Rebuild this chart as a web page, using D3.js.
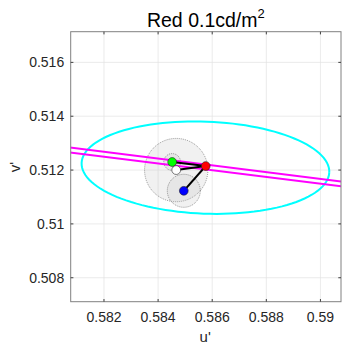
<!DOCTYPE html>
<html>
<head>
<meta charset="utf-8">
<script src="https://cdn.jsdelivr.net/npm/d3@7"></script>
<style>
  body { margin: 0; background: #fff; }
  svg { font-family: "Liberation Sans", Arial, sans-serif; }
</style>
</head>
<body>
<svg width="351" height="349"></svg>
<script>
// chromaticity points (u', v')
const POINT_NAMES = ['white', 'green', 'red', 'blue'];
const POINT_U = [0.58467, 0.58452, 0.58576, 0.58495];
const POINT_V = [0.51200, 0.51230, 0.51215, 0.51123];
const POINT_RADIUS = [0.00117, 0.00031, 0, 0.00061]; // spread circles
const POINT_COLORS = ['#ffffff', '#00ff00', '#ff0000', '#0000ff'];

// discrimination ellipse
const ELLIPSE_CENTER = [0.58575, 0.51209];
const ELLIPSE_AXES = [0.00458, 0.00171];
const ELLIPSE_ANGLE = -2.2; // degrees

// parallel confusion lines
const LINE_U = [0.5800, 0.5915];
const LINE_V_UPPER = [0.51293, 0.51148];
const LINE_V_LOWER = [0.51275, 0.51131];

const X_TICKS = [0.582, 0.584, 0.586, 0.588, 0.59];
const Y_TICKS = [0.508, 0.51, 0.512, 0.514, 0.516];

const MARGIN = { left: 70.7, top: 31.7 };
const W = 270.3, H = 270;

const svg = d3.select('svg');
const g = svg.append('g').attr('transform', `translate(${MARGIN.left},${MARGIN.top})`);

const x = d3.scaleLinear().domain([0.58077, 0.59076]).range([0, W]);
const y = d3.scaleLinear().domain([0.50711, 0.51714]).range([H, 0]);

svg.append('defs').append('clipPath').attr('id', 'clip')
  .append('rect').attr('width', W).attr('height', H);

// grid
g.selectAll('.gx').data(X_TICKS).join('line')
  .attr('x1', d => x(d)).attr('x2', d => x(d))
  .attr('y1', 0).attr('y2', H)
  .attr('stroke', '#e3e3e3').attr('stroke-width', 0.7);
g.selectAll('.gy').data(Y_TICKS).join('line')
  .attr('y1', d => y(d)).attr('y2', d => y(d))
  .attr('x1', 0).attr('x2', W)
  .attr('stroke', '#e3e3e3').attr('stroke-width', 0.7);

const plot = g.append('g').attr('clip-path', 'url(#clip)');

const pts = POINT_NAMES.map((n, i) => ({ name: n, u: POINT_U[i], v: POINT_V[i], r: POINT_RADIUS[i], c: POINT_COLORS[i] }));

// spread circles
plot.selectAll('.spread').data(pts.filter(d => d.r > 0)).join('circle')
  .attr('cx', d => x(d.u)).attr('cy', d => y(d.v))
  .attr('r', d => x(d.u + d.r) - x(d.u))
  .attr('fill', 'rgba(190,190,190,0.22)')
  .attr('stroke', '#555').attr('stroke-width', 0.6)
  .attr('stroke-dasharray', '1,1');

// ellipse
const th = ELLIPSE_ANGLE * Math.PI / 180;
const ell = d3.range(0, 361, 3).map(a => {
  const t = a * Math.PI / 180;
  const du = ELLIPSE_AXES[0] * Math.cos(t), dv = ELLIPSE_AXES[1] * Math.sin(t);
  return [ELLIPSE_CENTER[0] + du * Math.cos(th) - dv * Math.sin(th),
          ELLIPSE_CENTER[1] + du * Math.sin(th) + dv * Math.cos(th)];
});
plot.append('path')
  .attr('d', d3.line().x(d => x(d[0])).y(d => y(d[1]))(ell))
  .attr('fill', 'none').attr('stroke', '#00ffff').attr('stroke-width', 2);

// confusion lines
[LINE_V_UPPER, LINE_V_LOWER].forEach(vs => {
  plot.append('line')
    .attr('x1', x(LINE_U[0])).attr('y1', y(vs[0]))
    .attr('x2', x(LINE_U[1])).attr('y2', y(vs[1]))
    .attr('stroke', '#ff00ff').attr('stroke-width', 2);
});

// lines from red to others
const red = pts[2];
plot.selectAll('.link').data(pts.filter(d => d.name !== 'red')).join('line')
  .attr('x1', x(red.u)).attr('y1', y(red.v))
  .attr('x2', d => x(d.u)).attr('y2', d => y(d.v))
  .attr('stroke', '#000').attr('stroke-width', 2);

// markers
plot.selectAll('.pt').data(pts).join('circle')
  .attr('cx', d => x(d.u)).attr('cy', d => y(d.v))
  .attr('r', 4.4)
  .attr('fill', d => d.c).attr('stroke', '#222').attr('stroke-width', 0.6);

// box and ticks
g.append('rect').attr('width', W).attr('height', H)
  .attr('fill', 'none').attr('stroke', '#808080').attr('stroke-width', 1);
const TL = 2.7;
X_TICKS.forEach(t => {
  g.append('line').attr('x1', x(t)).attr('x2', x(t)).attr('y1', H).attr('y2', H - TL).attr('stroke', '#404040');
  g.append('line').attr('x1', x(t)).attr('x2', x(t)).attr('y1', 0).attr('y2', TL).attr('stroke', '#404040');
});
Y_TICKS.forEach(t => {
  g.append('line').attr('y1', y(t)).attr('y2', y(t)).attr('x1', 0).attr('x2', TL).attr('stroke', '#404040');
  g.append('line').attr('y1', y(t)).attr('y2', y(t)).attr('x1', W).attr('x2', W - TL).attr('stroke', '#404040');
});

const fmt = d => String(+d.toFixed(3));
g.selectAll('.xl').data(X_TICKS).join('text')
  .attr('x', d => x(d)).attr('y', H + 20.3)
  .attr('text-anchor', 'middle').attr('font-size', 14).attr('fill', '#262626')
  .text(fmt);
g.selectAll('.yl').data(Y_TICKS).join('text')
  .attr('x', -6.5).attr('y', d => y(d) + 5)
  .attr('text-anchor', 'end').attr('font-size', 14).attr('fill', '#262626')
  .text(fmt);

// axis labels
g.append('text').attr('x', x(0.586) - 7).attr('y', H + 40)
  .attr('text-anchor', 'middle').attr('font-size', 15).attr('fill', '#262626').text("u'");
g.append('text').attr('transform', `translate(-50.5,${y(0.512) - 3}) rotate(-90)`)
  .attr('text-anchor', 'middle').attr('font-size', 15).attr('fill', '#262626').text("v'");

// title
const title = svg.append('text').attr('x', MARGIN.left + W / 2).attr('y', 26.7)
  .attr('text-anchor', 'middle').attr('font-size', 19.5).attr('fill', '#000');
title.append('tspan').text('Red 0.1cd/m');
title.append('tspan').attr('font-size', 13).attr('dy', -8.5).text('2');
</script>
</body>
</html>
